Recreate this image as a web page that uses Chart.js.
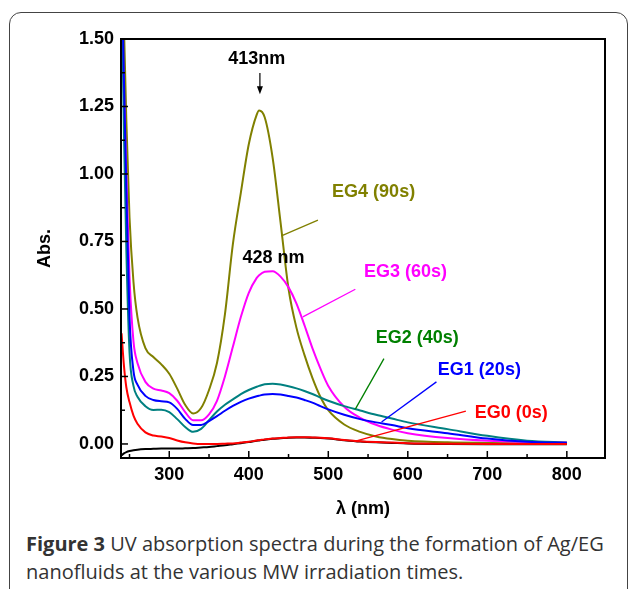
<!DOCTYPE html>
<html>
<head>
<meta charset="utf-8">
<script src="https://cdn.jsdelivr.net/npm/chart.js@4.4.1/dist/chart.umd.min.js"></script>
<style>
  body { margin: 0; background: #fff; width: 629px; height: 589px; overflow: hidden; position: relative; }
  #frame { position: absolute; left: 9px; top: 12px; width: 617px; height: 600px; border: 1.5px solid #444; border-radius: 12px; }
  #plot { position: absolute; left: 0; top: 0; }
  #caption { position: absolute; left: 26px; top: 530px; width: 596px; font-family: "Open Sans", sans-serif; font-size: 20px; line-height: 28px; color: #333; white-space: nowrap; }
</style>
</head>
<body>
<div id="frame"></div>
<canvas id="plot" width="629" height="520"></canvas>
<div id="caption"><b>Figure 3</b> UV absorption spectra during the formation of Ag/EG<br>nanofluids at the various MW irradiation times.</div>
<script>
// Lunghezze d'onda (nm) e assorbanze
const wavelength = [240, 243, 246, 250, 255, 260, 270, 280, 290, 300, 310, 320, 330, 340, 350, 360, 370, 380, 390, 400,
  410, 413, 420, 430, 440, 450, 460, 470, 480, 490, 500, 520, 540, 560, 580, 600, 650, 700, 750, 800];

const eg4 = [1.85, 1.55, 1.2, 0.84, 0.6, 0.47, 0.355, 0.322, 0.295, 0.26, 0.205, 0.145, 0.113, 0.133, 0.2, 0.3, 0.48, 0.74, 0.93, 1.11,
  1.22, 1.235, 1.21, 1.06, 0.82, 0.575, 0.43, 0.33, 0.245, 0.175, 0.125, 0.072, 0.045, 0.028, 0.018, 0.012, 0.006, 0.004, 0.003, 0.003];
const eg3 = [1.6, 1.3, 1.0, 0.62, 0.38, 0.3, 0.23, 0.205, 0.198, 0.188, 0.16, 0.118, 0.088, 0.088, 0.11, 0.16, 0.25, 0.36, 0.47, 0.56,
  0.615, 0.625, 0.638, 0.64, 0.62, 0.58, 0.52, 0.44, 0.355, 0.28, 0.215, 0.138, 0.097, 0.071, 0.053, 0.04, 0.022, 0.012, 0.008, 0.006];
const eg2 = [1.75, 1.15, 0.72, 0.34, 0.215, 0.175, 0.14, 0.126, 0.127, 0.118, 0.092, 0.063, 0.045, 0.056, 0.088, 0.12, 0.145, 0.165, 0.185, 0.2,
  0.212, 0.215, 0.221, 0.223, 0.22, 0.214, 0.206, 0.196, 0.185, 0.172, 0.16, 0.14, 0.124, 0.108, 0.094, 0.08, 0.055, 0.03, 0.012, 0.005];
const eg1 = [1.8, 1.35, 0.95, 0.47, 0.27, 0.22, 0.178, 0.163, 0.158, 0.154, 0.13, 0.093, 0.07, 0.07, 0.085, 0.103, 0.123, 0.141, 0.156, 0.168,
  0.177, 0.179, 0.183, 0.185, 0.183, 0.178, 0.172, 0.163, 0.153, 0.14, 0.128, 0.108, 0.092, 0.08, 0.07, 0.058, 0.04, 0.02, 0.008, 0.004];
const eg0 = [0.41, 0.29, 0.21, 0.155, 0.105, 0.075, 0.043, 0.031, 0.028, 0.022, 0.013, 0.006, 0.002, 0.0, 0.0, 0.0, 0.001, 0.002, 0.005, 0.008,
  0.013, 0.014, 0.017, 0.02, 0.022, 0.024, 0.025, 0.025, 0.024, 0.023, 0.021, 0.015, 0.01, 0.007, 0.005, 0.003, 0.001, 0.0, 0.0, 0.0];
const base = [-0.042, -0.035, -0.03, -0.026, -0.023, -0.021, -0.019, -0.018, -0.017, -0.017, -0.017, -0.016, -0.015, -0.013, -0.011, -0.008, -0.005, -0.001, 0.003, 0.007,
  0.012, 0.013, 0.016, 0.019, 0.021, 0.023, 0.024, 0.024, 0.023, 0.022, 0.02, 0.014, 0.009, 0.006, 0.004, 0.002, 0.0, -0.001, -0.001, -0.001];

const xTicks = [300, 400, 500, 600, 700, 800];
const yTicks = [0, 0.25, 0.5, 0.75, 1.0, 1.25, 1.5];

// Etichette delle curve (testo, colore, posizione e linea guida in coordinate dei dati)
const etichette = [
  { text: 'EG4 (90s)', color: '#808000', x: 557, y: 0.934, from: [487, 0.829], to: [441, 0.771] },
  { text: 'EG3 (60s)', color: '#ff00ff', x: 597, y: 0.635, from: [534, 0.573], to: [468, 0.471] },
  { text: 'EG2 (40s)', color: '#008000', x: 612, y: 0.393, from: [570, 0.316], to: [534, 0.129] },
  { text: 'EG1 (20s)', color: '#0000ff', x: 690, y: 0.275, from: [636, 0.23], to: [567, 0.081] },
  { text: 'EG0 (0s)', color: '#ff0000', x: 730, y: 0.113, from: [673, 0.122], to: [533, 0.01] },
  { text: '413nm', color: '#000', x: 410, y: 1.424 },
  { text: '428 nm', color: '#000', x: 431, y: 0.688 }
];

function serie(valori) {
  return wavelength.map((w, i) => ({ x: w, y: valori[i] }));
}

function dataset(valori, colore) {
  return {
    data: serie(valori),
    borderColor: colore,
    borderWidth: 2,
    pointRadius: 0,
    showLine: true,
    fill: false,
    cubicInterpolationMode: 'monotone'
  };
}

const famiglia = '"Liberation Sans", Arial, sans-serif';
const font = 'bold 18px ' + famiglia;

// Cornice, tacche interne, etichette e freccia
const decorazioni = {
  id: 'decorazioni',
  afterDatasetsDraw(chart) {
    const { ctx, chartArea: a, scales: { x, y } } = chart;
    ctx.save();
    ctx.strokeStyle = '#000';
    ctx.lineWidth = 2;
    ctx.strokeRect(a.left, a.top, a.right - a.left, a.bottom - a.top);

    ctx.lineWidth = 1.5;
    for (let v = 250; v <= 800; v += 50) {
      const px = x.getPixelForValue(v);
      const len = v % 100 === 0 ? 7 : 4;
      ctx.beginPath(); ctx.moveTo(px, a.bottom); ctx.lineTo(px, a.bottom - len); ctx.stroke();
    }
    for (let k = 0; k <= 12; k++) {
      const py = y.getPixelForValue(k * 0.125);
      const len = k % 2 === 0 ? 7 : 4;
      ctx.beginPath(); ctx.moveTo(a.left, py); ctx.lineTo(a.left + len, py); ctx.stroke();
    }

    ctx.font = font;
    ctx.textAlign = 'center';
    ctx.textBaseline = 'middle';
    etichette.forEach(e => {
      ctx.fillStyle = e.color;
      ctx.fillText(e.text, x.getPixelForValue(e.x), y.getPixelForValue(e.y));
      if (e.from) {
        ctx.strokeStyle = e.color;
        ctx.lineWidth = 1.3;
        ctx.beginPath();
        ctx.moveTo(x.getPixelForValue(e.from[0]), y.getPixelForValue(e.from[1]));
        ctx.lineTo(x.getPixelForValue(e.to[0]), y.getPixelForValue(e.to[1]));
        ctx.stroke();
      }
    });

    // freccia sul picco a 413 nm
    const ax = x.getPixelForValue(414);
    const y1 = y.getPixelForValue(1.374), y2 = y.getPixelForValue(1.295);
    ctx.strokeStyle = '#000';
    ctx.fillStyle = '#000';
    ctx.lineWidth = 1.2;
    ctx.beginPath(); ctx.moveTo(ax, y1); ctx.lineTo(ax, y2 - 6); ctx.stroke();
    ctx.beginPath(); ctx.moveTo(ax - 3, y2 - 8); ctx.lineTo(ax + 3, y2 - 8); ctx.lineTo(ax, y2); ctx.closePath(); ctx.fill();
    ctx.restore();
  }
};

const fontAssi = { size: 18, weight: 'bold', family: famiglia };

new Chart(document.getElementById('plot'), {
  type: 'scatter',
  data: {
    datasets: [
      dataset(eg0, '#ff0000'),
      dataset(base, '#000000'),
      dataset(eg1, '#0000ff'),
      dataset(eg2, '#008080'),
      dataset(eg3, '#ff00ff'),
      dataset(eg4, '#808000')
    ]
  },
  options: {
    responsive: false,
    animation: false,
    events: [],
    layout: { padding: { left: 34, top: 39, right: 24, bottom: 0 } },
    plugins: { legend: { display: false }, tooltip: { enabled: false } },
    scales: {
      x: {
        type: 'linear',
        min: 239.3,
        max: 848,
        afterFit: s => { s.height = 62; },
        afterBuildTicks: s => { s.ticks = xTicks.map(v => ({ value: v })); },
        grid: { display: false, drawTicks: false },
        border: { display: false },
        ticks: { color: '#000', font: fontAssi, padding: 6, maxRotation: 0 },
        title: { display: true, text: 'λ (nm)', color: '#000', padding: 0, font: fontAssi }
      },
      y: {
        min: -0.052,
        max: 1.5,
        afterFit: s => { s.width = 87; },
        afterBuildTicks: s => { s.ticks = yTicks.map(v => ({ value: v })); },
        grid: { display: false, drawTicks: false },
        border: { display: false },
        ticks: { color: '#000', font: fontAssi, padding: 7, callback: v => v.toFixed(2) },
        title: { display: true, text: 'Abs.', color: '#000', padding: 0, font: fontAssi }
      }
    }
  },
  plugins: [decorazioni]
});
</script>
</body>
</html>
